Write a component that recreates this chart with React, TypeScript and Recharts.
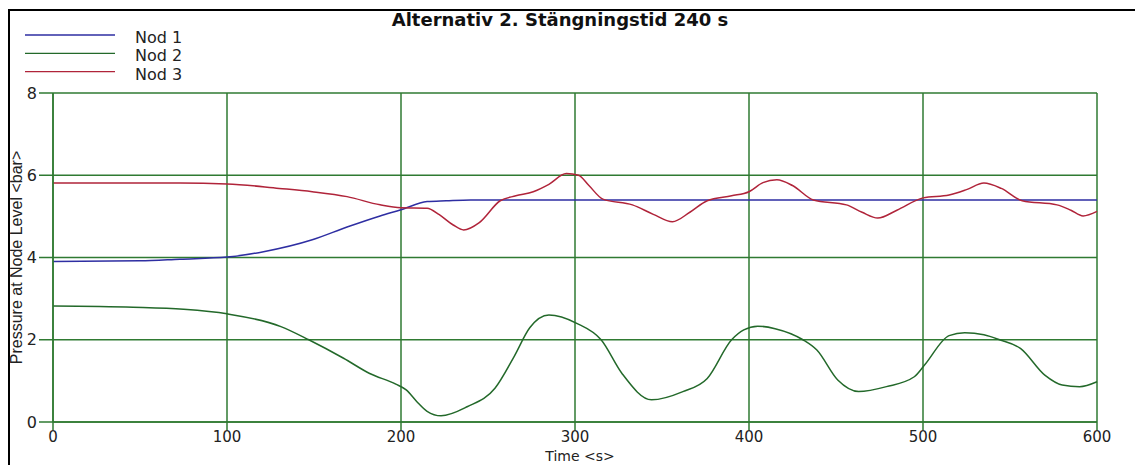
import React from 'react';
import { LineChart, Line, XAxis, YAxis, CartesianGrid, Label } from 'recharts';

// time (s) / pressure (bar) pairs per node
const nod1Time = [0, 50, 73, 100, 121, 149, 169, 188, 200, 215, 226, 240, 600];
const nod1Pressure = [3.9, 3.92, 3.96, 4.01, 4.14, 4.43, 4.74, 5.01, 5.16, 5.36, 5.38, 5.4, 5.4];

const nod2Time = [
  0, 46, 75, 100, 131, 147, 167, 182, 197, 203, 209, 215, 223, 238, 254, 265, 274, 285, 301, 315, 327, 344,
  362, 376, 390, 397, 405, 415, 431, 439, 451, 463, 479, 495, 501, 515, 524, 535, 544, 556, 570, 580, 590, 600,
];
const nod2Pressure = [
  2.82, 2.79, 2.74, 2.63, 2.32, 2.0, 1.55, 1.18, 0.92, 0.78, 0.5, 0.26, 0.15, 0.37, 0.82, 1.59, 2.29, 2.6, 2.4, 2.0, 1.18, 0.54,
  0.74, 1.06, 2.0, 2.24, 2.33, 2.27, 2.0, 1.75, 1.02, 0.74, 0.86, 1.1, 1.39, 2.1, 2.17, 2.12, 2.0, 1.79, 1.14, 0.9, 0.86, 0.98,
];

const nod3Time = [
  0, 73, 100, 130, 149, 169, 188, 200, 215, 222, 230, 236, 245, 257, 266, 276, 285, 295, 302, 308, 316,
  333, 345, 356, 366, 376, 390, 400, 408, 416, 425, 437, 456, 465, 474, 485, 500, 515, 525, 535, 545,
  557, 577, 585, 592, 600,
];
const nod3Pressure = [
  5.81, 5.81, 5.79, 5.68, 5.6, 5.48, 5.28, 5.21, 5.2, 5.04, 4.79, 4.67, 4.85, 5.38, 5.5, 5.6, 5.78, 6.04, 6.0, 5.75, 5.42,
  5.28, 5.05, 4.87, 5.1, 5.38, 5.5, 5.6, 5.82, 5.89, 5.75, 5.4, 5.28, 5.1, 4.96, 5.15, 5.45, 5.52, 5.65, 5.81, 5.68,
  5.38, 5.28, 5.15, 5.01, 5.12,
];

const timeTicks = [0, 100, 200, 300, 400, 500, 600];
const pressureTicks = [0, 2, 4, 6, 8];

const zip = (t: number[], v: number[]) => t.map((time, i) => ({ time, value: v[i] }));

const series = [
  { name: 'Nod 1', color: '#2e2ea2', data: zip(nod1Time, nod1Pressure) },
  { name: 'Nod 2', color: '#23692a', data: zip(nod2Time, nod2Pressure) },
  { name: 'Nod 3', color: '#b0243a', data: zip(nod3Time, nod3Pressure) },
];

const GRID = '#2f7a32';
const WIDE_FONT = '"DejaVu Sans", sans-serif';

// legend drawn by hand so it doesn't eat into the plot area
const LegendBox = () => (
  <svg width={200} height={60} style={{ position: 'absolute', left: 25, top: 26 }}>
    {series.map((s, i) => (
      <g key={s.name}>
        <line x1={0} x2={90} y1={9 + i * 18.3} y2={9 + i * 18.3} stroke={s.color} strokeWidth={1.3} />
        <text x={110} y={17 + i * 18.3} fontFamily={WIDE_FONT} fontSize={16} fill="#222">
          {s.name}
        </text>
      </g>
    ))}
  </svg>
);

export default function App() {
  return (
    <div style={{ position: 'absolute', left: 0, top: 0, width: 1135, height: 465, background: '#fff' }}>
      <div
        style={{
          position: 'absolute',
          left: 8,
          top: 9,
          width: 1127,
          height: 456,
          borderTop: '2px solid #000',
          borderLeft: '2px solid #000',
          boxSizing: 'border-box',
        }}
      />
      <div
        style={{
          position: 'absolute',
          left: 310,
          width: 500,
          top: 10,
          textAlign: 'center',
          fontFamily: WIDE_FONT,
          fontWeight: 'bold',
          fontSize: 18,
          lineHeight: '20px',
          color: '#111',
        }}
      >
        Alternativ 2. Stängningstid 240 s
      </div>
      <LegendBox />
      <LineChart
        width={1135}
        height={465}
        margin={{ top: 93, right: 38, bottom: 0, left: 0 }}
        style={{ position: 'absolute', left: 0, top: 0 }}
      >
        <CartesianGrid stroke={GRID} strokeWidth={1.5} />
        <XAxis
          type="number"
          dataKey="time"
          domain={[0, 600]}
          ticks={timeTicks}
          height={43}
          tickSize={8}
          tickMargin={1}
          axisLine={{ stroke: GRID, strokeWidth: 1.5 }}
          tickLine={{ stroke: GRID, strokeWidth: 1.5 }}
          tick={{ fill: '#222', fontSize: 15, fontFamily: WIDE_FONT }}
          allowDuplicatedCategory={false}
        >
          <Label
            value="Time <s>"
            position="insideBottom"
            offset={4}
            dx={5}
            style={{ fill: '#222', fontSize: 14, fontFamily: WIDE_FONT }}
          />
        </XAxis>
        <YAxis
          type="number"
          domain={[0, 8]}
          ticks={pressureTicks}
          width={53}
          tickSize={14}
          tickMargin={2}
          axisLine={{ stroke: GRID, strokeWidth: 1.5 }}
          tickLine={{ stroke: GRID, strokeWidth: 1.5 }}
          tick={{ fill: '#222', fontSize: 16, fontFamily: WIDE_FONT }}
        >
          <Label
            value="Pressure at Node Level <bar>"
            angle={-90}
            position="center"
            dx={-10}
            style={{ fill: '#222', fontSize: 16, fontFamily: '"Liberation Sans", Arial, sans-serif' }}
          />
        </YAxis>
        {series.map((s) => (
          <Line
            key={s.name}
            name={s.name}
            data={s.data}
            dataKey="value"
            type="monotone"
            stroke={s.color}
            strokeWidth={1.5}
            dot={false}
            activeDot={false}
            isAnimationActive={false}
          />
        ))}
      </LineChart>
    </div>
  );
}
